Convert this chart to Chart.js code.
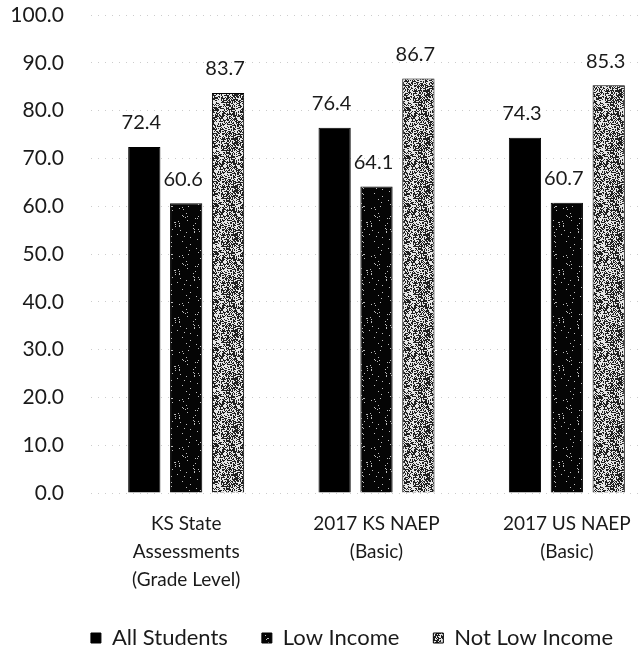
<!DOCTYPE html>
<html>
<head>
<meta charset="utf-8">
<script src="https://cdn.jsdelivr.net/npm/chart.js@4"></script>
<style>
  html, body { margin: 0; padding: 0; background: #fff; overflow: hidden; }
  #wrap { width: 680px; height: 651px; }
</style>
</head>
<body>
<div id="wrap"><canvas id="main-chart" width="680" height="651"></canvas></div>
<script>
const categories = [
    ["KS State", "Assessments", "(Grade Level)"],
    ["2017 KS NAEP", "(Basic)"],
    ["2017 US NAEP", "(Basic)"]
];
const series_names = ["All Students", "Low Income", "Not Low Income"];
const all_students = [72.4, 76.4, 74.3];
const low_income = [60.6, 64.1, 60.7];
const not_low_income = [83.7, 86.7, 85.3];

const font_family = "Lato, 'Liberation Sans', sans-serif";
const legend_shift = 21;

// speckled fill, seeded so it looks the same on every load
function makeSpeckle(density, base, dot)
{
    let c = document.createElement("canvas");
    c.width = 48;
    c.height = 48;
    let cx = c.getContext("2d");
    cx.fillStyle = base;
    cx.fillRect(0, 0, 48, 48);
    let seed = 12345;
    cx.fillStyle = dot;
    for(let y = 0; y < 48; y++)
        for(let x = 0; x < 48; x++)
        {
            seed = (seed * 1103515245 + 12345) & 0x7fffffff;
            if((seed / 0x7fffffff) < density) cx.fillRect(x, y, 1, 1);
        }
    return cx.createPattern(c, "repeat");
}

const low_fill = makeSpeckle(0.03, "#050505", "#bdbdbd");
const not_low_fill = makeSpeckle(0.5, "#202020", "#e6e6e6");

// value text above each bar
const barValues = {
    id: "barValues",
    afterDatasetsDraw(chart)
    {
        const ctx = chart.ctx;
        ctx.save();
        ctx.font = "20px " + font_family;
        ctx.fillStyle = "#1a1a1a";
        ctx.textAlign = "center";
        ctx.textBaseline = "bottom";
        chart.data.datasets.forEach(function(ds, i){
            chart.getDatasetMeta(i).data.forEach(function(bar, j){
                ctx.fillText(ds.data[j].toFixed(1), bar.x - 3, bar.y - 14);
            });
        });
        ctx.restore();
    }
};

// nudge the legend row a bit to the right
const legendNudge = {
    id: "legendNudge",
    afterLayout(chart)
    {
        chart.legend.left += legend_shift;
        chart.legend.right += legend_shift;
    }
};

const chart_ctx = document.getElementById("main-chart").getContext("2d");

new Chart(chart_ctx, {
    type: "bar",
    data: {
        labels: categories,
        datasets: [
            { label: series_names[0], data: all_students, backgroundColor: "#000", borderColor: "#000", borderWidth: 1 },
            { label: series_names[1], data: low_income, backgroundColor: low_fill, borderColor: "#000", borderWidth: 1 },
            { label: series_names[2], data: not_low_income, backgroundColor: not_low_fill, borderColor: "#000", borderWidth: 1 }
        ]
    },
    options: {
        responsive: false,
        animation: false,
        layout: { padding: { top: 15, left: 0, right: 18, bottom: -8 } },
        datasets: {
            bar: { categoryPercentage: 0.66, barPercentage: 0.77 }
        },
        scales: {
            x: {
                grid: { display: false, drawTicks: false },
                border: { display: false },
                ticks: {
                    color: "#1a1a1a",
                    padding: 17,
                    maxRotation: 0,
                    font: { family: font_family, size: 19, lineHeight: 1.47 }
                },
                afterFit: function(scale){ scale.height = 100; }
            },
            y: {
                min: 0,
                max: 100,
                grid: {
                    color: "rgba(0,0,0,0.2)",
                    lineWidth: 1,
                    drawTicks: true,
                    tickLength: 27,
                    tickColor: "rgba(0,0,0,0)"
                },
                border: { display: false, dash: [1, 6] },
                ticks: {
                    stepSize: 10,
                    color: "#1a1a1a",
                    padding: 0,
                    font: { family: font_family, size: 21 },
                    callback: function(v){ return v.toFixed(1); }
                },
                afterFit: function(scale){ scale.width = 91; }
            }
        },
        plugins: {
            legend: {
                position: "bottom",
                labels: {
                    color: "#1a1a1a",
                    boxWidth: 10,
                    boxHeight: 10,
                    padding: 34,
                    font: { family: font_family, size: 22 }
                }
            },
            tooltip: { enabled: false }
        }
    },
    plugins: [barValues, legendNudge]
});
</script>
</body>
</html>
